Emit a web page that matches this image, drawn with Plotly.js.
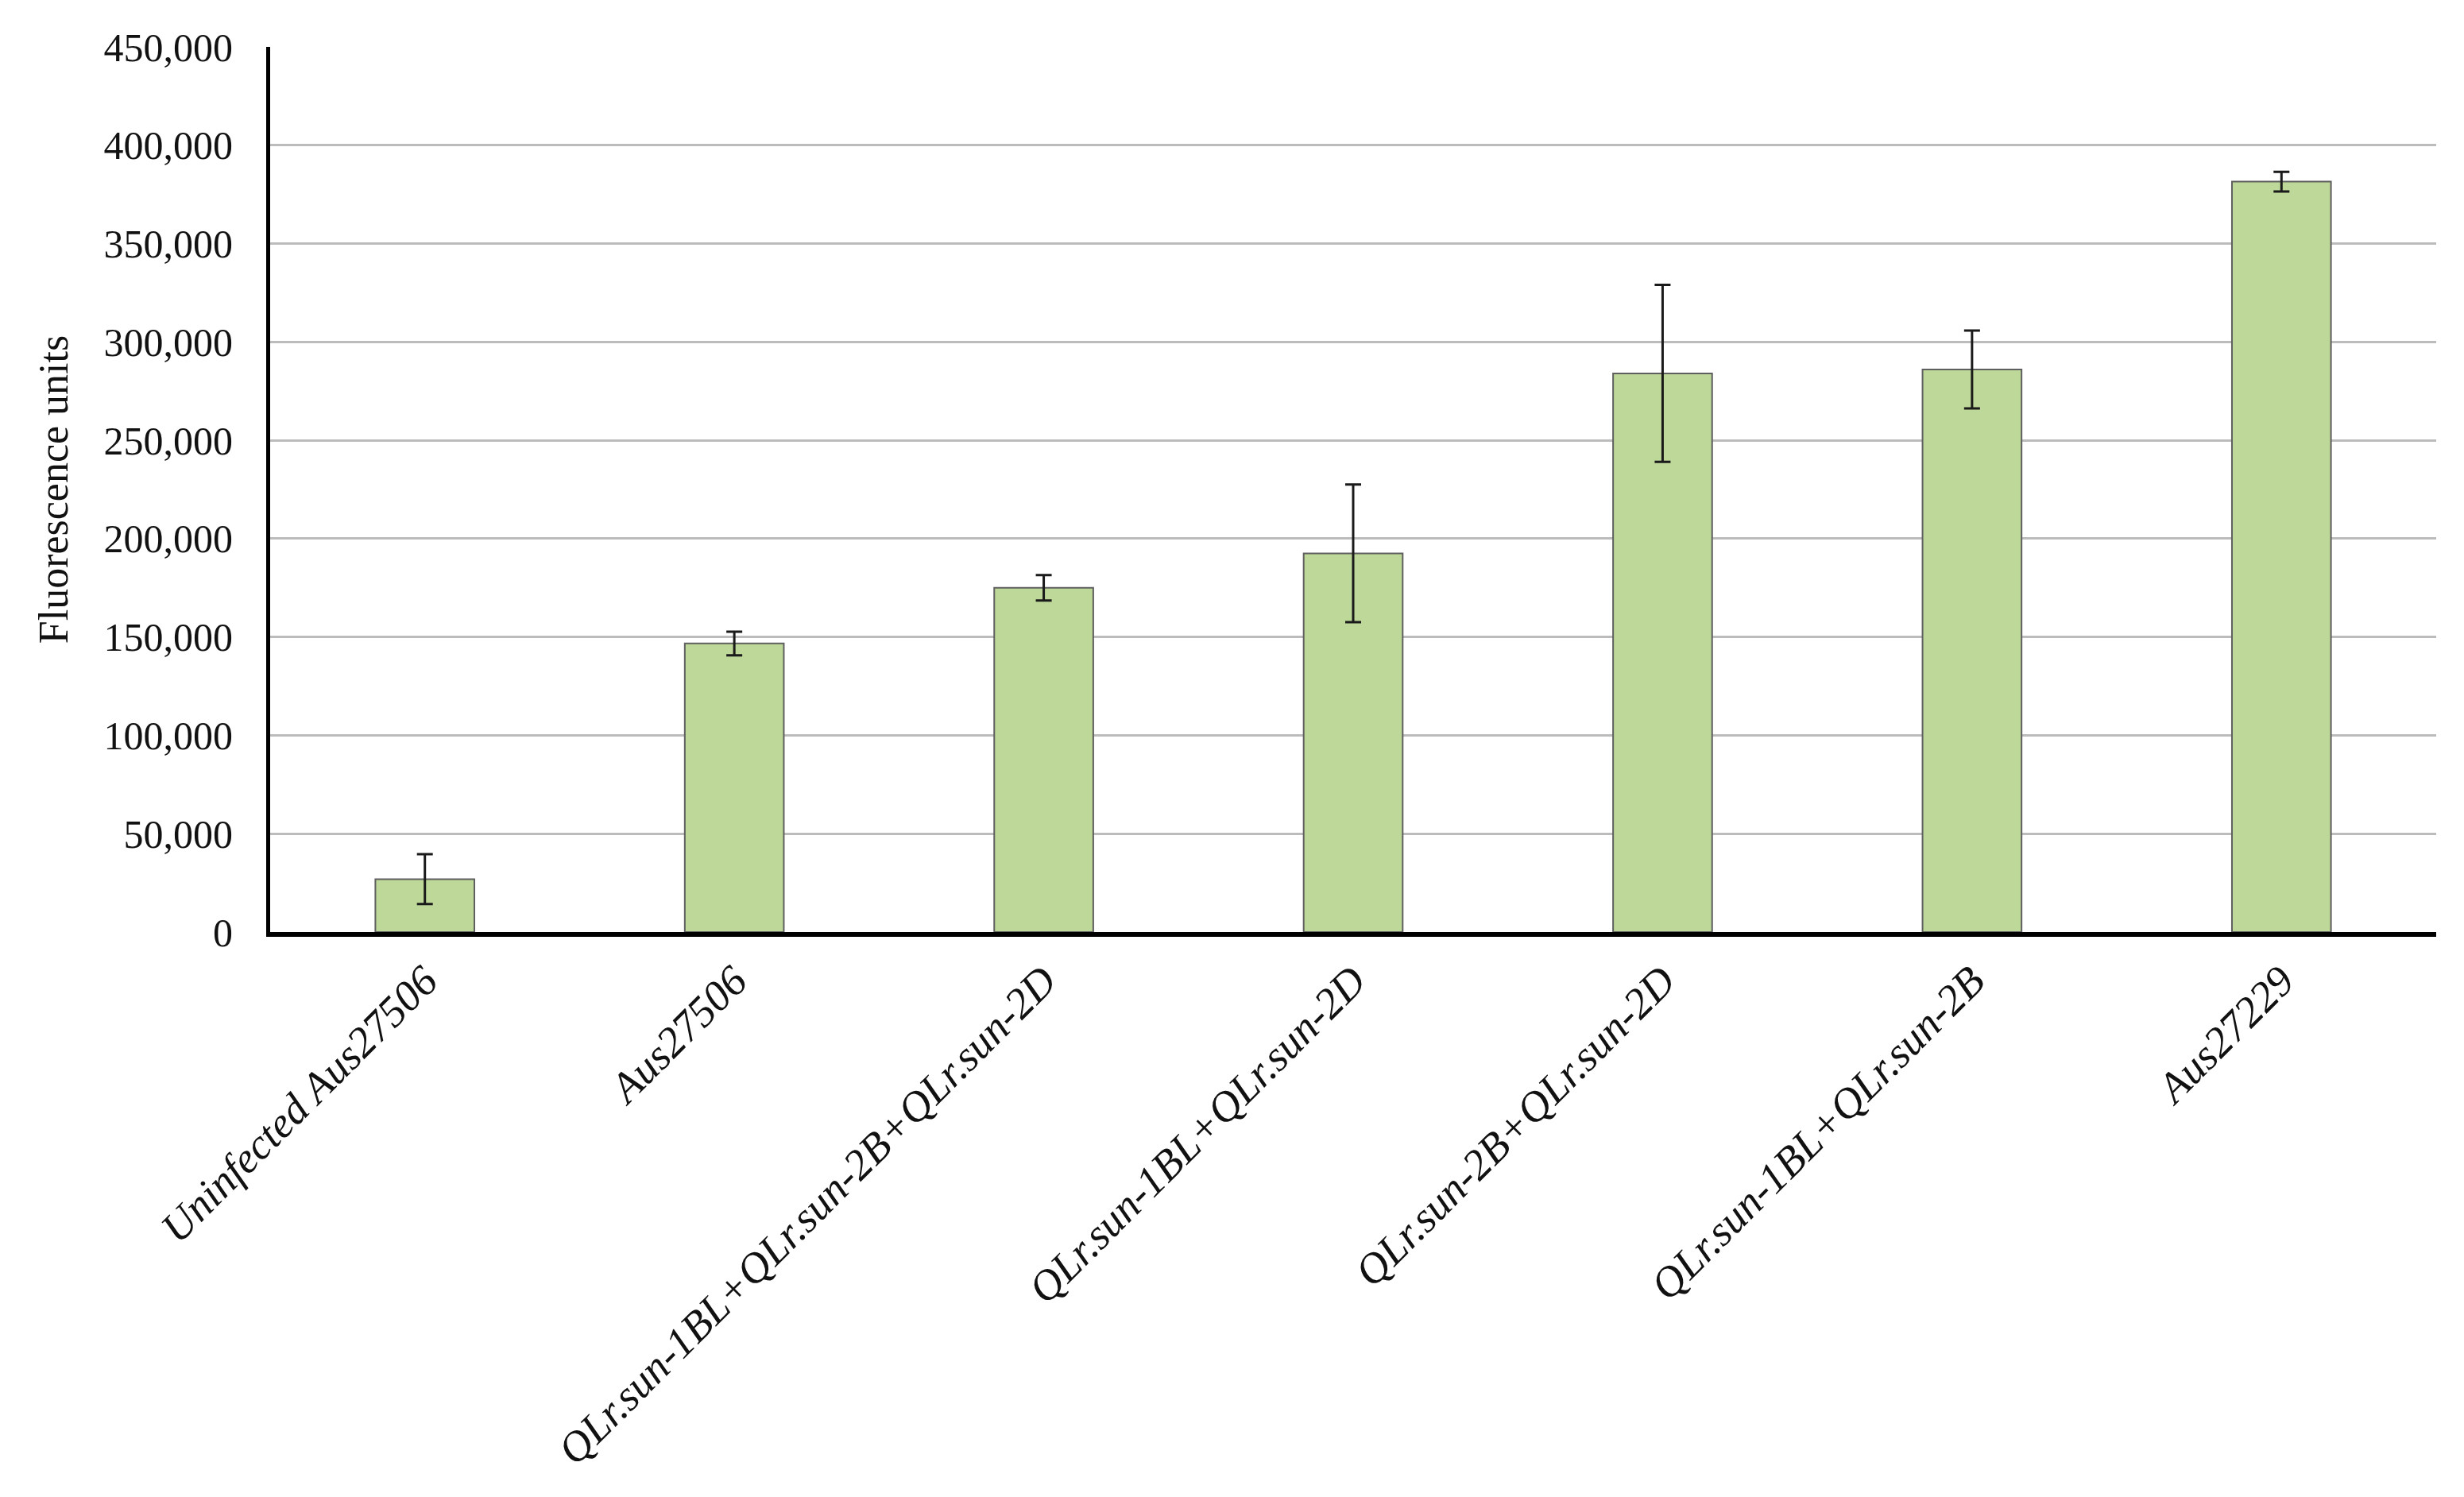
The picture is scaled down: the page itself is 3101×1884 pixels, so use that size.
<!DOCTYPE html>
<html>
<head>
<meta charset="utf-8">
<script src="https://cdn.plot.ly/plotly-3.0.1.min.js"></script>
<style>
  html, body { margin: 0; padding: 0; background: #fff; }
  #chart { width: 3101px; height: 1884px; }
</style>
</head>
<body>
<div id="chart"></div>
<script>
// Genotypes on the x axis
var genotypes = [
    "Uninfected Aus27506",
    "Aus27506",
    "QLr.sun-1BL+QLr.sun-2B+QLr.sun-2D",
    "QLr.sun-1BL+QLr.sun-2D",
    "QLr.sun-2B+QLr.sun-2D",
    "QLr.sun-1BL+QLr.sun-2B",
    "Aus27229"
];

// Mean fluorescence and error
var fluorescence = [26900, 146700, 175000, 192500, 284000, 286000, 381500];
var fluorescenceErr = [12700, 6000, 6500, 35000, 45000, 19800, 5000];

// Y axis ticks
var yTicks = [0, 50000, 100000, 150000, 200000, 250000, 300000, 350000, 400000, 450000];

var serif = "'Liberation Serif', 'Times New Roman', serif";

var trace = {
    x: genotypes,
    y: fluorescence,
    type: "bar",
    marker: {
        color: "#bdd898",
        line: { color: "#5f5f5f", width: 2 }
    },
    error_y: {
        type: "data",
        array: fluorescenceErr,
        visible: true,
        color: "#1a1a1a",
        thickness: 3,
        width: 10
    }
};

var layout = {
    width: 3101,
    height: 1884,
    margin: { l: 340, r: 35, t: 59, b: 711 },
    paper_bgcolor: "#ffffff",
    plot_bgcolor: "#ffffff",
    showlegend: false,
    bargap: 0.68,
    font: { family: serif, size: 50, color: "#111111" },
    xaxis: {
        type: "category",
        range: [-0.5, 6.5],
        tickangle: -45,
        tickfont: { family: serif, size: 54, color: "#111111", style: "italic" },
        ticks: "",
        ticklabelstandoff: 2,
        showline: true,
        linecolor: "#000000",
        linewidth: 6,
        showgrid: false,
        zeroline: false
    },
    yaxis: {
        range: [0, 450000],
        tickvals: yTicks,
        tickformat: ",d",
        ticks: "",
        ticklabelstandoff: 32,
        tickfont: { family: serif, size: 50, color: "#111111" },
        showline: true,
        linecolor: "#000000",
        linewidth: 5,
        showgrid: true,
        gridcolor: "#bcbcbc",
        gridwidth: 3,
        zeroline: false,
        title: {
            text: "Fluorescence units",
            font: { family: serif, size: 52, color: "#111111" },
            standoff: 30
        }
    }
};

Plotly.newPlot("chart", [trace], layout, { staticPlot: true });
</script>
</body>
</html>
